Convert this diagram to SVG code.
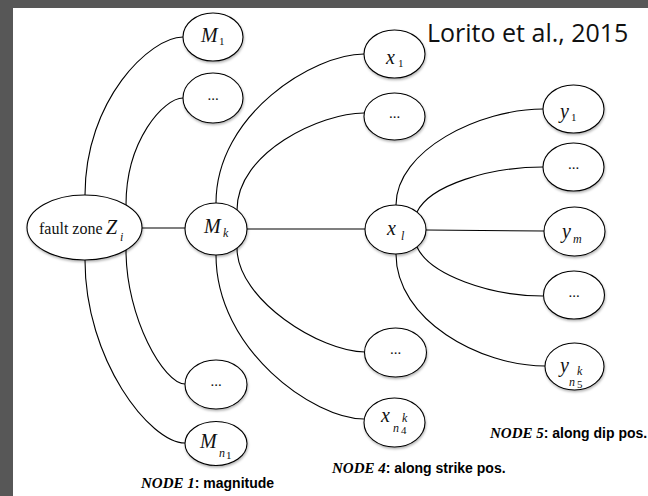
<svg xmlns="http://www.w3.org/2000/svg" width="648" height="496" viewBox="0 0 648 496">
<defs>
<style>
.n{fill:#fff;stroke:#000;stroke-width:1.1}
.c{fill:none;stroke:#000;stroke-width:1.1}
.v{font-family:"Liberation Serif",serif;font-style:italic;font-size:20px;fill:#111}
.s{font-family:"Liberation Serif",serif;font-style:italic;font-size:12px;fill:#111}
.d{font-family:"Liberation Serif",serif;font-size:11px;fill:#111}
.dots{font-family:"Liberation Serif",serif;font-size:15px;fill:#111;text-anchor:middle}
.lb{font-family:"Liberation Serif",serif;font-style:italic;font-weight:bold;font-size:15px;fill:#000}
.ls{font-family:"Liberation Sans",Arial,sans-serif;font-weight:bold;font-size:14px;fill:#000}
</style>
<filter id="sh" x="-20%" y="-20%" width="140%" height="150%">
<feDropShadow dx="0.6" dy="1.6" stdDeviation="1" flood-color="#000" flood-opacity="0.3"/>
</filter>
</defs>
<rect width="648" height="496" fill="#575757"/>
<rect x="13" y="8" width="635" height="488" fill="#fff"/>
<text x="427" y="42" font-family="Open Sans, Liberation Sans, sans-serif" font-size="25" fill="#111">Lorito et al., 2015</text>
<g id="connectors">
<path class="c" d="M85 195C85 100 150 37 183 37"/>
<path class="c" d="M126 205C126 140 164 98 183 98"/>
<path class="c" d="M126 250C126 318 164 384 185 384"/>
<path class="c" d="M85 260C85 360 150 443 185 443"/>
<path class="c" d="M142 228L185 228"/>
<path class="c" d="M216 203C216 114 314 54 364 54"/>
<path class="c" d="M237 210C237 152 321 113 364 113"/>
<path class="c" d="M237 248C237 300 321 352 365 352"/>
<path class="c" d="M216 255C216 350 314 419 364 419"/>
<path class="c" d="M247 229L365 229"/>
<path class="c" d="M396 205C396 150 480 109 543 109"/>
<path class="c" d="M417 212C430 185 490 167 543 167"/>
<path class="c" d="M426 230L544 231"/>
<path class="c" d="M417 247C430 275 490 296 543 296"/>
<path class="c" d="M396 254C396 320 480 366 545 366"/>
</g>
<g id="M1"><ellipse class="n" filter="url(#sh)" cx="213" cy="37" rx="30" ry="24"/><text class="v" x="201" y="42">M</text><text class="d" x="219" y="45">1</text></g>
<g id="M_dots1"><ellipse class="n" filter="url(#sh)" cx="213" cy="98" rx="30" ry="25"/><text class="dots" x="213" y="100">...</text></g>
<g id="fault"><ellipse class="n" filter="url(#sh)" cx="84.5" cy="227.5" rx="57.5" ry="32.5"/><text font-family="Liberation Serif,serif" font-size="16" fill="#111" x="39" y="234">fault zone</text><text class="v" font-size="23" x="106" y="234">Z</text><text class="s" x="120" y="241">i</text></g>
<g id="Mk"><ellipse class="n" filter="url(#sh)" cx="216" cy="229" rx="31" ry="26"/><text class="v" x="204" y="233">M</text><text class="s" x="223" y="237">k</text></g>
<g id="M_dots2"><ellipse class="n" filter="url(#sh)" cx="216" cy="384.5" rx="31" ry="24.5"/><text class="dots" x="216" y="386">...</text></g>
<g id="Mn1"><ellipse class="n" filter="url(#sh)" cx="216" cy="443.5" rx="31" ry="22"/><text class="v" x="200" y="448">M</text><text class="s" font-size="10" x="219" y="457">n</text><text class="d" font-size="7" x="226" y="459">1</text></g>
<g id="x1"><ellipse class="n" filter="url(#sh)" cx="394.5" cy="54" rx="30.5" ry="24"/><text class="v" x="386" y="64">x</text><text class="d" x="398" y="67">1</text></g>
<g id="x_dots1"><ellipse class="n" filter="url(#sh)" cx="394.5" cy="116.5" rx="30.5" ry="23.5"/><text class="dots" x="394.5" y="118">...</text></g>
<g id="xl"><ellipse class="n" filter="url(#sh)" cx="395.5" cy="229.5" rx="30.5" ry="24.5"/><text class="v" x="387" y="235">x</text><text class="s" x="401" y="240">l</text></g>
<g id="x_dots2"><ellipse class="n" filter="url(#sh)" cx="395.5" cy="352.5" rx="31" ry="24.5"/><text class="dots" x="395.5" y="354">...</text></g>
<g id="xn4"><ellipse class="n" filter="url(#sh)" cx="394.5" cy="422.5" rx="30.5" ry="24.5"/><text class="v" x="381" y="422">x</text><text class="s" font-size="10" x="393" y="432">n</text><text class="s" font-size="7" x="402" y="422">k</text><text class="d" font-size="8" x="401" y="434">4</text></g>
<g id="y1"><ellipse class="n" filter="url(#sh)" cx="573.5" cy="109" rx="30.5" ry="24"/><text class="v" x="560" y="118">y</text><text class="d" x="571" y="121">1</text></g>
<g id="y_dots1"><ellipse class="n" filter="url(#sh)" cx="573.5" cy="167" rx="30.5" ry="24"/><text class="dots" x="573.5" y="169">...</text></g>
<g id="ym"><ellipse class="n" filter="url(#sh)" cx="574.5" cy="231.5" rx="30.5" ry="24.5"/><text class="v" x="562" y="238">y</text><text class="s" x="573" y="243">m</text></g>
<g id="y_dots2"><ellipse class="n" filter="url(#sh)" cx="574" cy="295" rx="30.5" ry="24"/><text class="dots" x="574" y="297">...</text></g>
<g id="yn5"><ellipse class="n" filter="url(#sh)" cx="574.5" cy="366.5" rx="29.5" ry="23.5"/><text class="v" x="560" y="372">y</text><text class="s" font-size="10" x="569" y="386">n</text><text class="s" font-size="7" x="577" y="375">k</text><text class="d" font-size="8" x="577" y="388">5</text></g>
<g id="labels">
<text x="141" y="488"><tspan class="lb">NODE 1</tspan><tspan class="ls">: magnitude</tspan></text>
<text x="332" y="473"><tspan class="lb">NODE 4</tspan><tspan class="ls">: along strike pos.</tspan></text>
<text x="490" y="438"><tspan class="lb">NODE 5</tspan><tspan class="ls">: along dip pos.</tspan></text>
</g>
</svg>
